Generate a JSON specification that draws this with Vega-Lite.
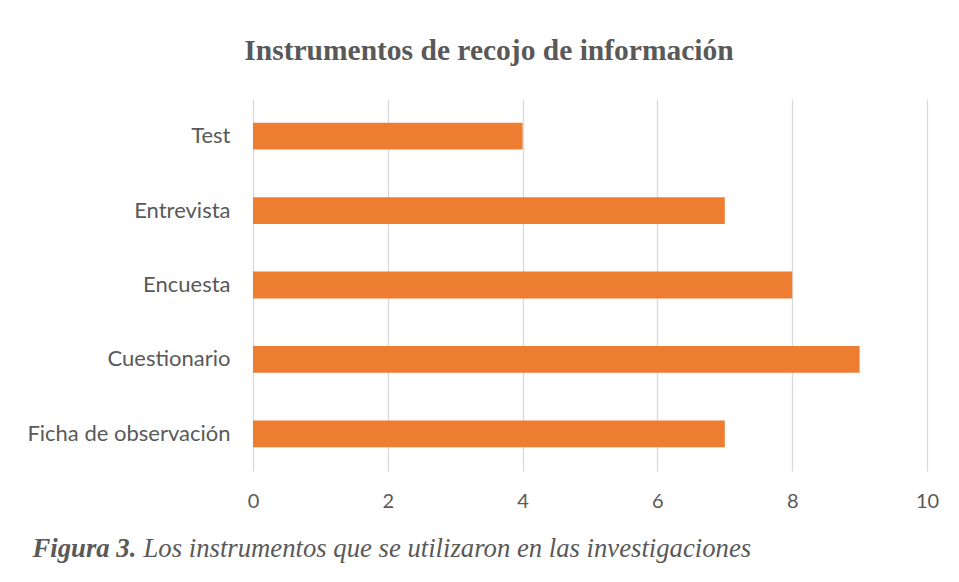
{
  "$schema": "https://vega.github.io/schema/vega-lite/v6.json",
  "width": 674,
  "height": 372,
  "autosize": {"type": "none"},
  "padding": {"left": 253, "top": 99, "right": 32, "bottom": 111},
  "background": "white",
  "title": {
    "text": "Instrumentos de recojo de información",
    "font": "Liberation Serif",
    "fontSize": 29.5,
    "fontWeight": "bold",
    "color": "#595959",
    "anchor": "middle",
    "frame": "group",
    "dx": -101,
    "baseline": "alphabetic",
    "offset": 10
  },
  "data": {
    "values": [
      {"instrumento": "Test", "cantidad": 4},
      {"instrumento": "Entrevista", "cantidad": 7},
      {"instrumento": "Encuesta", "cantidad": 8},
      {"instrumento": "Cuestionario", "cantidad": 9},
      {"instrumento": "Ficha de observación", "cantidad": 7}
    ]
  },
  "mark": {"type": "bar", "color": "#ED7D31"},
  "encoding": {
    "y": {
      "field": "instrumento",
      "type": "nominal",
      "sort": ["Test", "Entrevista", "Encuesta", "Cuestionario", "Ficha de observación"],
      "scale": {"paddingInner": 0.64, "paddingOuter": 0.32},
      "axis": {
        "title": "Los instrumentos que se utilizaron en las investigaciones",
        "titleFont": "Liberation Serif",
        "titleFontStyle": "italic",
        "titleFontWeight": "normal",
        "titleFontSize": 26.7,
        "titleColor": "#595959",
        "titleAngle": 0,
        "titleAlign": "left",
        "titleBaseline": "alphabetic",
        "titleX": -110,
        "titleY": 457,
        "domain": false,
        "ticks": false,
        "grid": false,
        "labelFont": "Lato",
        "labelFontSize": 22,
        "labelColor": "#595959",
        "labelPadding": 23,
        "labelLimit": 400
      }
    },
    "x": {
      "field": "cantidad",
      "type": "quantitative",
      "scale": {"domain": [0, 10], "nice": false},
      "axis": {
        "values": [0, 2, 4, 6, 8, 10],
        "title": "Figura 3.",
        "titleFont": "Liberation Serif",
        "titleFontStyle": "italic",
        "titleFontWeight": "bold",
        "titleFontSize": 26.7,
        "titleColor": "#595959",
        "titleAngle": 0,
        "titleAlign": "left",
        "titleBaseline": "alphabetic",
        "titleX": -221,
        "titleY": 85,
        "domain": false,
        "ticks": false,
        "grid": true,
        "gridColor": "#D9D9D9",
        "gridWidth": 1.3,
        "labelFont": "Lato",
        "labelFontSize": 20,
        "labelColor": "#595959",
        "labelPadding": 20,
        "labelFlush": false
      }
    }
  },
  "config": {"view": {"stroke": null}}
}
